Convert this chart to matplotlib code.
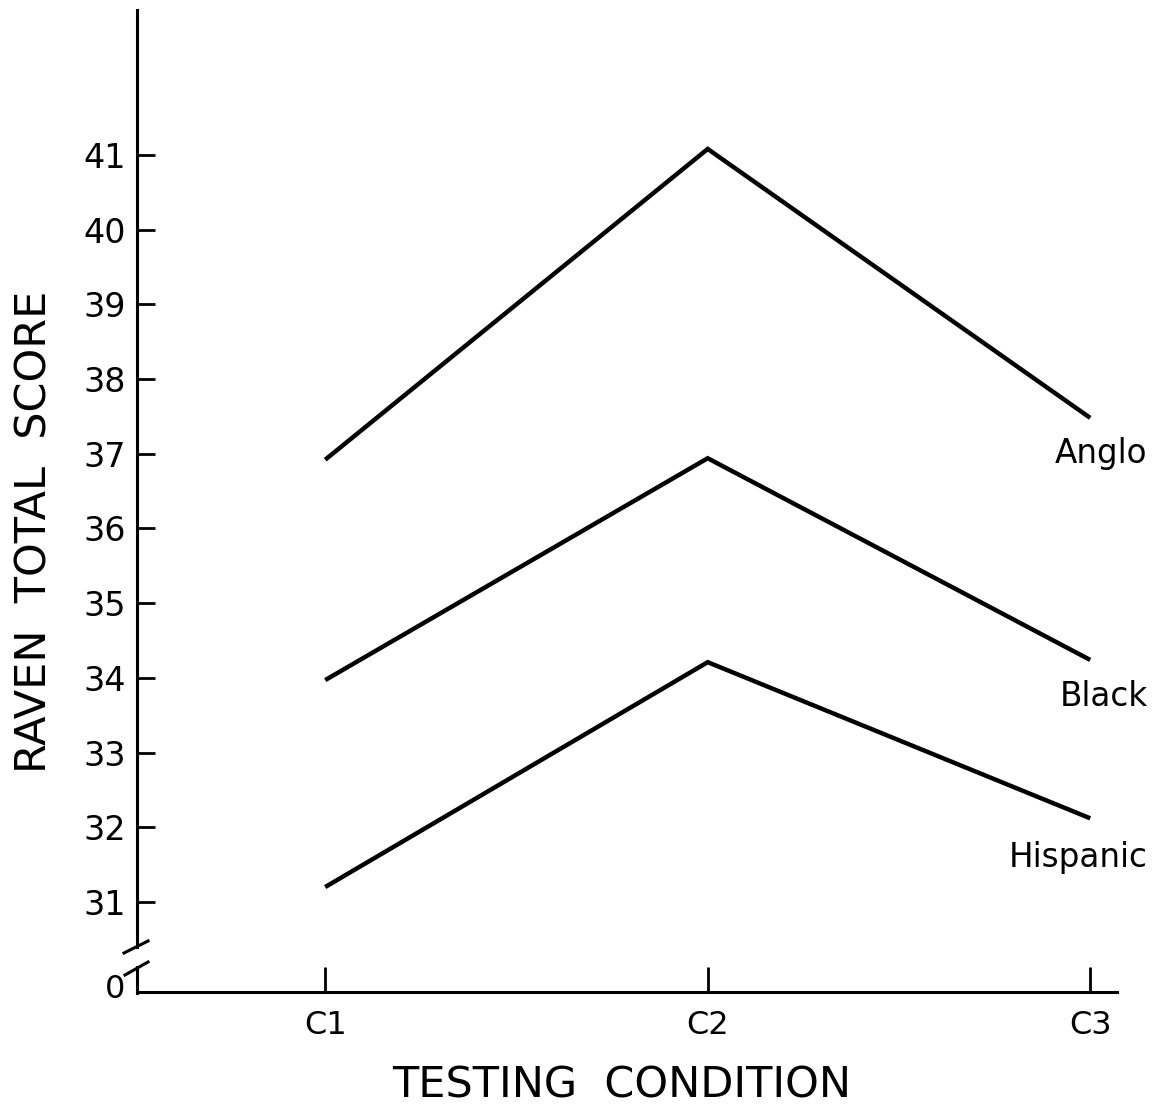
import matplotlib.pyplot as plt
from matplotlib.lines import Line2D

# data
conditions = ["C1", "C2", "C3"]
anglo = [36.92, 41.08, 37.48]
black = [33.97, 36.94, 34.24]
hispanic = [31.2, 34.21, 32.12]
groups = ["Anglo", "Black", "Hispanic"]
label_y = [37.0, 33.75, 31.6]
yticks = [31, 32, 33, 34, 35, 36, 37, 38, 39, 40, 41]

W, H = 1155, 1120
fig = plt.figure(figsize=(W / 100, H / 100), dpi=100)
ax = fig.add_axes([137 / W, 1 - 992 / H, (1117 - 137) / W, (992 - 10) / H])

x = [1, 2, 3]
for series in [anglo, black, hispanic]:
    ax.plot(x, series, color='black', lw=3.2, solid_capstyle='butt', solid_joinstyle='miter')

ax.set_xlim(0.508, 3.07)
ax.set_ylim(29.795, 42.94)

# group names at the right end
for name, ly in zip(groups, label_y):
    ax.text(3.15, ly, name, ha='right', va='center', fontsize=23.5, clip_on=False)

ax.set_xticks(x)
ax.set_xticklabels(conditions, fontsize=23)
ax.set_yticks(yticks)
ax.set_yticklabels([str(t) for t in yticks], fontsize=24)
ax.tick_params(axis='y', direction='in', length=13, width=2, pad=8)
ax.tick_params(axis='x', direction='in', length=18, width=2, pad=13)

for s in ['top', 'right', 'left']:
    ax.spines[s].set_visible(False)
ax.spines['bottom'].set_linewidth(2.2)

# broken y axis drawn by hand (figure pixels)
def fy(py):
    return 1 - py / H

def fx(px):
    return px / W

fig.add_artist(Line2D([fx(137), fx(137)], [fy(10), fy(947)], color='black', lw=2.2))
fig.add_artist(Line2D([fx(137), fx(137)], [fy(967), fy(993)], color='black', lw=2.2))
fig.add_artist(Line2D([fx(124), fx(148)], [fy(953), fy(941)], color='black', lw=2.2))
fig.add_artist(Line2D([fx(125), fx(148)], [fy(975), fy(962)], color='black', lw=2.2))
fig.text(fx(115), fy(989), "0", ha='center', va='center', fontsize=23)

fig.text(fx(35), fy(532), "RAVEN  TOTAL  SCORE", rotation=90, ha='center', va='center', fontsize=31)
fig.text(fx(622), fy(1085), "TESTING  CONDITION", ha='center', va='center', fontsize=31)

fig.savefig("out.png", dpi=100)
